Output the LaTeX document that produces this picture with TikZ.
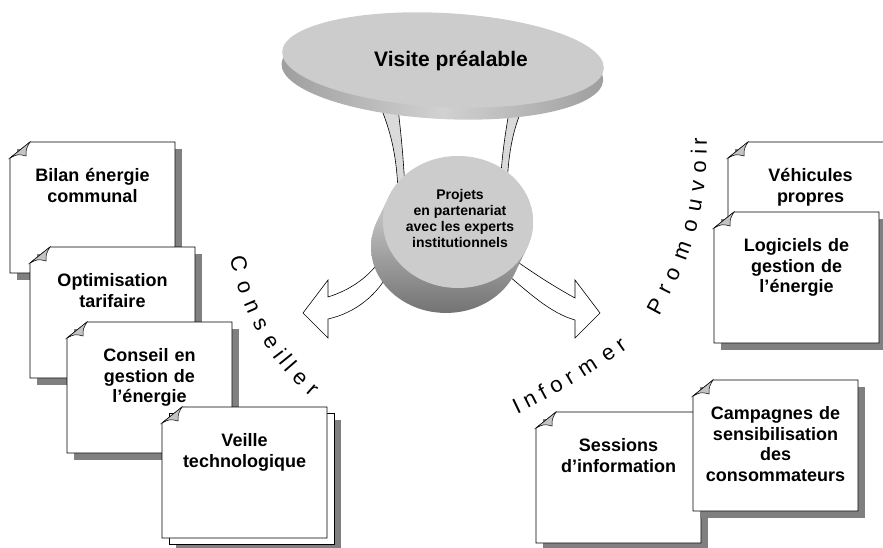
\documentclass[tikz,border=0pt]{standalone}
\usepackage{fontspec}
\setmainfont{Liberation Sans}
\usetikzlibrary{decorations.text}
\definecolor{FaceGray}{HTML}{CCCCCC}
\definecolor{ShadowGray}{HTML}{808080}
\definecolor{FlapGray}{HTML}{C4C4C4}
\definecolor{LegGray}{HTML}{DADADA}

\newcommand{\arcfont}{\fontsize{22}{22}\selectfont}
% one sheet with its curled corner: left, top
\newcommand{\pagesheet}[2]{%
  \filldraw[page] (#1,#2+16) -- (#1+20,#2) -- (#1+165,#2) -- (#1+165,#2+131) -- (#1,#2+131) -- cycle;
  \filldraw[pageflap] (#1,#2+16) .. controls (#1+8,#2+12) .. (#1+16,#2+14) .. controls (#1+16,#2+7) .. (#1+20,#2) -- cycle;
}
% sheet with shadow and text: name, left, top, text
\newcommand{\pagebox}[4]{%
  \fill[pageshadow] (#2+7,#3+7) rectangle (#2+172,#3+138);
  \pagesheet{#2}{#3}
  \node[pagetext] (#1) at (#2+82.5,#3+22.5) {\rule{0pt}{17pt}#4};
}

\begin{document}
\begin{tikzpicture}[x=1pt, y=-1pt,
    page/.style={fill=white, draw=black, line width=0.7pt},
    pageflap/.style={fill=FlapGray, draw=black, line width=0.5pt},
    pageshadow/.style={fill=ShadowGray},
    pagetext/.style={font=\fontsize{18}{20.5}\selectfont\bfseries, align=center, text width=160pt, inner sep=0pt, anchor=north},
    blockarrow/.style={fill=white, draw=black, line width=0.6pt, line join=miter},
    leg/.style={fill=LegGray, draw=black, line width=0.6pt},
    arcword/.style={decorate, decoration={text effects along path, text={#1},
        text effects/.cd, text along path, fit text to path,
        every character/.style={font=\arcfont, inner sep=0pt, anchor=base}}}]
    \useasboundingbox (0,0) rectangle (883,548);
    \clip (0,0) rectangle (883,548);

    % legs under the top disc
    \filldraw[leg] (378,100) .. controls (390,130) and (396,150) .. (398,190) -- (405,190) .. controls (403,150) and (400,125) .. (397,100) -- cycle;
    \filldraw[leg] (511,100) .. controls (506,130) and (502,150) .. (500,190) -- (507,190) .. controls (508,150) and (514,125) .. (526,100) -- cycle;

    % curved arrows
    \filldraw[blockarrow] (303,313) -- (328,280) -- (328,297) .. controls (350,290) and (368,278) .. (382,258) -- (390,270) .. controls (378,295) and (355,313) .. (328,319) -- (328,338) -- cycle;
    \filldraw[blockarrow] (600,313) -- (575,280) -- (575,298) .. controls (555,287) and (536,275) .. (512,258) -- (502,270) .. controls (528,292) and (550,313) .. (575,320) -- (575,338) -- cycle;

    % top disc
    \shade[left color=black!38, right color=black!38, middle color=black!18, rotate around={-3:(443,60)}] (443,72) ellipse [x radius=161, y radius=47];
    \fill[FaceGray, rotate around={-3:(443,60)}] (443,60) ellipse [x radius=161, y radius=47];
    \node[font=\fontsize{21}{24}\selectfont\bfseries, anchor=base] (visite) at (451,67) {Visite préalable};

    % middle disc
    \shade[top color=black!6, bottom color=black!55] \foreach \k in {0,...,24} {(458-0.5*\k,222+1.04*\k) ellipse [x radius=75, y radius=66]};
    \fill[FaceGray] (458,222) ellipse [x radius=75, y radius=66];
    \node[font=\fontsize{14}{15.7}\selectfont\bfseries, align=center] (projets) at (460,218.5) {Projets\\en partenariat\\avec les experts\\institutionnels};

    % left pages
    \pagebox{bilan}{10}{142}{Bilan énergie\\communal}
    \pagebox{tarif}{30}{247}{Optimisation\\tarifaire}
    \pagebox{conseil}{67}{322}{Conseil en\\gestion de\\l’énergie}
    \fill[pageshadow] (176,420) rectangle (341,551);
    \filldraw[page] (169,413) rectangle (334,544);
    \pagesheet{162}{407}
    \node[pagetext] (veille) at (244.5,429.5) {\rule{0pt}{17pt}Veille\\technologique};

    % right pages
    \pagebox{vehicules}{728}{142}{Véhicules\\propres}
    \pagebox{logiciels}{714}{212}{Logiciels de\\gestion de\\l’énergie}
    \pagebox{sessions}{536}{412}{Sessions\\d’information}
    \pagebox{campagnes}{693}{380}{Campagnes de\\sensibilisation\\des\\consommateurs}

    % curved words
    \path[arcword=Conseiller] ([shift={(169.5:242)}]468,213) arc[start angle=169.5, end angle=130.5, radius=242];
    \path[arcword=Informer] (517,414) .. controls (553,397) and (592,374) .. (628,348);
    \path[arcword=Promouvoir] (659,316) .. controls (684,270) and (707,225) .. (707,138);
\end{tikzpicture}
\end{document}
